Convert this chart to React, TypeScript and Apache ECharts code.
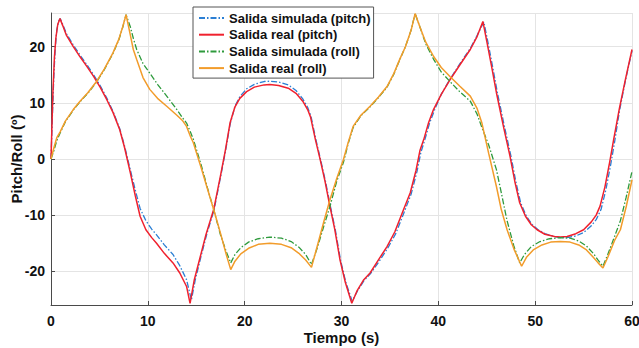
import React, { useEffect, useRef } from "react";
import * as echarts from "echarts";

const seriesNames = [
  "Salida simulada (pitch)",
  "Salida real (pitch)",
  "Salida simulada (roll)",
  "Salida real (roll)",
];

const xTicks = [0, 10, 20, 30, 40, 50, 60];

const pitchSim: number[][] = [
  [0, 0], [0.15, 8], [0.3, 15], [0.45, 20], [0.6, 23], [0.8, 24.6], [0.95, 25], [1.2, 24], [1.6, 22.3], [2.3, 20.3],
  [3.0, 18.5], [3.7, 16.8], [4.4, 15], [5.1, 13], [5.75, 10.9], [6.4, 8.5], [7.1, 5.4], [7.6, 2.3], [8.2, -2], [8.7, -5.5],
  [9.2, -8.8], [9.8, -11], [10.4, -12.5], [10.9, -13.5], [11.7, -15.3], [12.6, -17], [13.3, -19], [14.0, -21.5], [14.5, -25.1],
  [14.9, -21.5], [15.5, -17.3], [16.1, -13.3], [16.85, -9], [17.5, -3.3], [18.0, 1.2], [18.5, 6.2], [19.0, 9.4], [19.5, 11.1],
  [20.2, 12.5], [21.0, 13.3], [22.0, 13.8], [22.6, 13.85], [23.5, 13.7], [24.5, 13.2], [25.3, 12.2], [26.0, 10.7], [26.5, 9.2],
  [26.85, 7.6], [27.35, 3.5], [27.85, -0.2], [28.35, -4], [28.85, -8.4], [29.35, -12.5], [29.9, -18], [30.45, -22], [31.1, -25.3],
  [31.65, -23.5], [32.35, -21.6], [33.0, -20.4], [33.9, -18.2], [34.8, -15.8], [35.6, -13.3], [36.4, -9.8], [37.2, -6.2],
  [37.8, -2.2], [38.2, 1.2], [38.6, 3.4], [39.1, 6.4], [39.6, 8.7], [40.3, 11.5], [41.2, 14.2], [42.2, 16.9], [43.3, 19.7],
  [44.0, 22], [44.7, 24.4], [45.1, 21], [45.6, 16.5], [46.1, 11.8], [46.8, 6], [47.5, 0.5], [48.0, -4], [48.5, -7.8],
  [49.1, -10.2], [49.7, -11.7], [50.3, -12.6], [51.0, -13.3], [52.0, -13.8], [52.6, -14], [53.3, -14], [54.2, -13.7],
  [55.0, -13.1], [55.8, -11.9], [56.3, -10.8], [56.8, -9], [57.3, -5.5], [57.8, -1], [58.2, 3], [58.7, 8.5], [59.3, 13.8], [60, 19.3],
];

const pitchReal: number[][] = [
  [0, 0], [0.1, 6], [0.2, 12], [0.35, 18], [0.5, 21.5], [0.7, 24], [0.93, 25], [1.2, 23.8], [1.6, 22], [2.3, 20],
  [3.0, 18.2], [3.7, 16.5], [4.4, 14.7], [5.1, 12.7], [5.75, 10.6], [6.4, 8.3], [7.1, 5.2], [7.6, 2], [8.2, -2.5], [8.7, -6.5],
  [9.2, -10.2], [9.8, -12.6], [10.4, -14], [10.9, -15], [11.7, -16.8], [12.6, -18.5], [13.3, -20.3], [14.0, -22.7], [14.36, -25.7],
  [14.8, -21.5], [15.4, -17.5], [16.0, -13.5], [16.8, -9], [17.5, -3], [18.0, 1.5], [18.5, 6.5], [19.0, 9.3], [19.5, 10.8],
  [20.2, 12.0], [21.0, 12.8], [22.0, 13.2], [22.6, 13.25], [23.5, 13.1], [24.5, 12.6], [25.3, 11.7], [26.0, 10.3], [26.5, 8.8],
  [26.8, 7.5], [27.3, 3.5], [27.8, -0.1], [28.3, -4], [28.8, -8.4], [29.3, -12.5], [29.85, -18], [30.4, -22], [31.06, -25.7],
  [31.6, -23.5], [32.3, -21.5], [32.95, -20.3], [33.8, -18], [34.7, -15.6], [35.5, -13], [36.3, -9.5], [37.1, -6], [37.7, -2],
  [38.1, 1.5], [38.5, 3.5], [39.0, 6.5], [39.5, 8.8], [40.3, 11.5], [41.2, 14.1], [42.2, 16.7], [43.3, 19.5], [44.0, 21.8],
  [44.6, 24.5], [45.0, 21], [45.5, 16.5], [46.0, 11.8], [46.7, 6], [47.4, 0.5], [47.9, -4], [48.4, -7.8], [49.0, -10.2],
  [49.6, -11.7], [50.2, -12.6], [51.0, -13.4], [52.0, -13.8], [52.6, -13.9], [53.3, -13.8], [54.2, -13.3], [55.0, -12.6],
  [55.8, -11.2], [56.3, -10], [56.7, -8.4], [57.2, -5], [57.7, -0.5], [58.1, 3.4], [58.7, 9], [59.3, 14], [60, 19.5],
];

const rollSim: number[][] = [
  [0, 0], [0.3, 1.5], [0.6, 3.3], [0.93, 4.6], [1.5, 6.7], [2.3, 8.7], [3.0, 10.2], [3.8, 11.7], [4.7, 13.7], [5.5, 15.9],
  [6.4, 18.8], [7.0, 21.2], [7.4, 23.4], [7.75, 25.7], [8.2, 23.5], [8.5, 21.5], [8.85, 19.5], [9.5, 17], [10.2, 15.3],
  [11.0, 13.3], [11.95, 11.2], [13.0, 8.8], [13.6, 7.3], [14.0, 6.4], [14.4, 4.8], [14.7, 3.5], [15.5, -1], [16.1, -4.8],
  [16.8, -9], [17.5, -13.5], [18.1, -16.5], [18.56, -18.5], [19.0, -17], [19.6, -15.8], [20.4, -14.8], [21.4, -14.2],
  [22.6, -13.9], [23.8, -14.1], [24.8, -14.7], [25.6, -15.7], [26.3, -17], [26.9, -18.8], [27.5, -15.8], [28.2, -11.8],
  [28.8, -8.5], [29.5, -4], [30.2, -0.6], [30.7, 2.8], [31.2, 5.6], [32.0, 7.7], [32.95, 9.3], [33.8, 10.9], [34.7, 12.8],
  [35.4, 15.1], [36.0, 17.6], [36.6, 20], [37.2, 23], [37.6, 25.9], [38.1, 23.5], [38.7, 20.5], [39.5, 17.8], [40.3, 15.5],
  [41.2, 13.8], [42.2, 12], [43.3, 10.3], [44.0, 8], [44.5, 5.6], [45.2, 2.5], [46.0, -1.9], [46.5, -6], [47.1, -11],
  [47.8, -15.5], [48.4, -18.5], [48.9, -17], [49.6, -15.6], [50.5, -14.7], [51.5, -14.2], [52.6, -14.0], [53.6, -14.1],
  [54.5, -14.6], [55.3, -15.5], [56.0, -16.8], [56.5, -18], [57.0, -19.1], [57.5, -17], [58.2, -13.8], [58.8, -11],
  [59.4, -6.8], [60, -2.2],
];

const rollReal: number[][] = [
  [0, 0], [0.3, 2], [0.6, 3.8], [0.93, 4.8], [1.5, 6.8], [2.3, 8.8], [3.0, 10.3], [3.8, 11.8], [4.7, 13.8], [5.5, 16],
  [6.4, 18.9], [7.0, 21.3], [7.4, 23.5], [7.75, 25.7], [8.2, 22], [8.5, 19.5], [8.85, 17.7], [9.5, 14.5], [10.2, 12.4],
  [11.0, 10.8], [11.95, 9.4], [13.0, 7.8], [13.6, 6.8], [14.0, 5.8], [14.4, 4], [14.7, 2.9], [15.5, -1.5], [16.1, -5],
  [16.8, -9], [17.5, -13.2], [18.1, -17], [18.56, -19.7], [19.0, -18.2], [19.6, -16.9], [20.4, -15.9], [21.4, -15.2],
  [22.6, -15.0], [23.8, -15.2], [24.8, -15.8], [25.6, -16.8], [26.3, -18], [26.9, -19.3], [27.5, -15.5], [28.2, -11],
  [28.8, -7.3], [29.5, -3.5], [30.2, -0.1], [30.7, 3], [31.2, 5.8], [32.0, 7.8], [32.95, 9.4], [33.8, 11], [34.7, 12.9],
  [35.4, 15.2], [36.0, 17.7], [36.6, 20], [37.2, 23], [37.6, 25.9], [38.1, 23.5], [38.7, 20.8], [39.5, 18.3], [40.3, 16.3],
  [41.2, 14.7], [42.2, 13], [43.3, 11.2], [44.0, 9], [44.5, 6.4], [45.2, 1], [46.0, -4.9], [46.5, -9], [47.1, -12.6],
  [47.8, -16], [48.6, -19.1], [49.1, -17.5], [49.8, -16.2], [50.7, -15.3], [51.6, -14.8], [52.6, -14.7], [53.6, -14.8],
  [54.5, -15.3], [55.3, -16.2], [56.0, -17.5], [56.5, -18.5], [57.0, -19.4], [57.5, -17.5], [58.2, -14.5], [58.8, -12.6],
  [59.4, -8.5], [60, -3.7],
];

const FONT = "'Liberation Sans', Arial, Helvetica, sans-serif";

export default function App() {
  const ref = useRef<HTMLDivElement>(null);
  useEffect(() => {
    if (!ref.current) return;
    const chart = echarts.init(ref.current, undefined, { renderer: "svg" });
    const dashDot = [6, 2, 1.5, 2];
    const colors = ["#2b7fd4", "#f0212e", "#2e9a3c", "#f29c2b"];
    const datasets = [pitchSim, pitchReal, rollSim, rollReal];
    const types: any[] = [dashDot, "solid", dashDot, "solid"];
    const widths = [1.3, 1.5, 1.3, 1.5];
    chart.setOption({
      animation: false,
      backgroundColor: "#ffffff",
      textStyle: { fontFamily: FONT },
      grid: { left: 51, right: 7, top: 13, bottom: 43, containLabel: false, outerBoundsMode: "none" },
      legend: {
        data: seriesNames,
        orient: "vertical",
        left: 193,
        top: 7,
        padding: [4, 3, 3, 5],
        itemGap: 2.7,
        itemWidth: 25,
        itemHeight: 14,
        backgroundColor: "#ffffff",
        borderColor: "#555555",
        borderWidth: 1,
        borderRadius: 0,
        itemStyle: { opacity: 0 },
        textStyle: { fontFamily: FONT, fontSize: 13, fontWeight: "bold", color: "#111111", lineHeight: 14 },
      },
      xAxis: {
        type: "value",
        min: xTicks[0],
        max: xTicks[xTicks.length - 1],
        interval: 10,
        name: "Tiempo (s)",
        nameLocation: "middle",
        nameGap: 25,
        nameMoveOverlap: false,
        nameTextStyle: { fontFamily: FONT, fontSize: 15, fontWeight: "bold", color: "#111111" },
        axisLine: { show: true, onZero: false, lineStyle: { color: "#4a4a4a", width: 1 } },
        axisTick: { show: true, inside: true, length: 4, lineStyle: { color: "#4a4a4a" } },
        axisLabel: { fontFamily: FONT, fontSize: 14, fontWeight: "bold", color: "#111111", margin: 9 },
        splitLine: { show: true, lineStyle: { color: "#e4e4e4", width: 1 } },
      },
      yAxis: {
        type: "value",
        min: -26,
        max: 26,
        splitNumber: 5,
        name: "Pitch/Roll (º)",
        nameLocation: "middle",
        nameGap: 27,
        nameRotate: 90,
        nameMoveOverlap: false,
        nameTextStyle: { fontFamily: FONT, fontSize: 15, fontWeight: "bold", color: "#111111" },
        axisLine: { show: true, onZero: false, lineStyle: { color: "#4a4a4a", width: 1 } },
        axisTick: { show: true, inside: true, length: 4, lineStyle: { color: "#4a4a4a" } },
        axisLabel: {
          fontFamily: FONT, fontSize: 14, fontWeight: "bold", color: "#111111", margin: 6,
          showMinLabel: false, showMaxLabel: false,
        },
        splitLine: { show: true, lineStyle: { color: "#e4e4e4", width: 1 } },
      },
      series: datasets.map((d, i) => ({
        name: seriesNames[i],
        type: "line",
        data: d,
        showSymbol: false,
        symbol: "none",
        smooth: false,
        clip: true,
        lineStyle: { color: colors[i], width: widths[i], type: types[i] },
        itemStyle: { color: colors[i] },
        z: 2 + i,
      })),
    });
    return () => chart.dispose();
  }, []);
  return <div ref={ref} style={{ width: 639, height: 348, position: "absolute", left: 0, top: 0 }} />;
}
